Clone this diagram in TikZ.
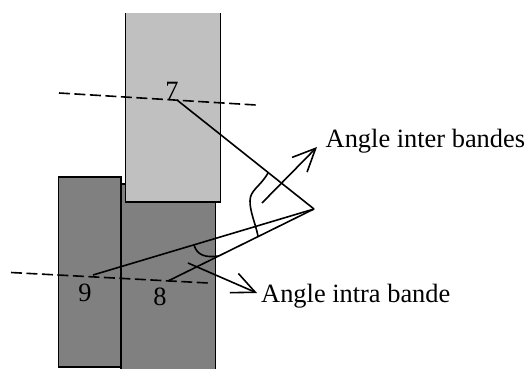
\documentclass[tikz,border=0pt]{standalone}
\usepackage{fontspec}
\setmainfont{Liberation Serif}
\usetikzlibrary{arrows.meta}
\definecolor{lightband}{HTML}{C0C0C0}
\definecolor{darkband}{HTML}{808080}
\definecolor{ink}{HTML}{000000}
\pgfdeclarearrow{
  name=VeeHead,
  setup code={
    \pgfarrowssettipend{1.9pt}
    \pgfarrowssetlineend{-0.5pt}
    \pgfarrowssetbackend{-23pt}
  },
  drawing code={
    \pgfsetdash{}{+0pt}
    \pgfsetmiterjoin
    \pgfpathmoveto{\pgfpoint{-23pt}{10.5pt}}
    \pgfpathlineto{\pgfpointorigin}
    \pgfpathlineto{\pgfpoint{-23pt}{-10.5pt}}
    \pgfusepathqstroke
  },
}
\tikzset{
  band/.style={draw=ink,line width=1.6pt},
  light/.style={band,fill=lightband},
  dark/.style={band,fill=darkband},
  axis/.style={draw=ink,line width=1.6pt,dash pattern=on 11pt off 4.5pt},
  ray/.style={draw=ink,line width=1.6pt},
  flow/.style={draw=ink,line width=1.6pt,-{VeeHead}},
  num/.style={font=\fontsize{26.4}{28}\selectfont,inner sep=0pt,text=ink},
  label/.style={font=\fontsize{26.4}{28}\selectfont,inner sep=0pt,anchor=base west,text=ink}
}
\begin{document}
\begin{tikzpicture}[x=1pt,y=-1pt]
\useasboundingbox (0,0) rectangle (528,369);
% bands
\draw[dark] (58.5,177) rectangle (121,367);
\draw[dark] (121,184) rectangle (215.5,372);
\draw[light] (125.5,10) rectangle (220.5,202);
\fill[white] (120,0) rectangle (225,13);
% points
\coordinate (p7) at (177,100);
\coordinate (p8) at (168,281);
\coordinate (p9) at (93,275);
\coordinate (apex) at (314,209);
\coordinate (dashA) at (59,93);
\coordinate (dashB) at (256,105);
\coordinate (dashC) at (11,272.5);
\coordinate (dashD) at (208,283);
% dashed lines
\draw[axis] (dashA) -- (dashB);
\draw[axis] (dashC) -- (dashD);
% rays
\draw[ray] (p7) -- (apex);
\draw[ray] (p9) -- (apex);
\draw[ray] (p8) -- (apex);
% arcs
\coordinate (interA) at (268,173);
\coordinate (interB) at (258,236);
\coordinate (intraA) at (194,245);
\coordinate (intraB) at (219,256);
\draw[ray] (interA) .. controls (260,187) and (250,190) .. (250,201) .. controls (250,212) and (255,222) .. (interB);
\draw[ray] (intraA) .. controls (197,255) and (205,258) .. (intraB);
% arrows
\coordinate (interS) at (262,203);
\coordinate (interE) at (317,147);
\coordinate (intraS) at (188,263);
\coordinate (intraE) at (257,293);
\node[label] (inter) at (325.5,147) {Angle inter bandes};
\node[label] (intra) at (261,302) {Angle intra bande};
\draw[flow] (interS) -- (interE);
\draw[flow] (intraS) -- (intraE);
% numbers
\node[num] (n7) at (172,91) {7};
\node[num] (n8) at (160,297) {8};
\node[num] (n9) at (85,293) {9};
\end{tikzpicture}
\end{document}
